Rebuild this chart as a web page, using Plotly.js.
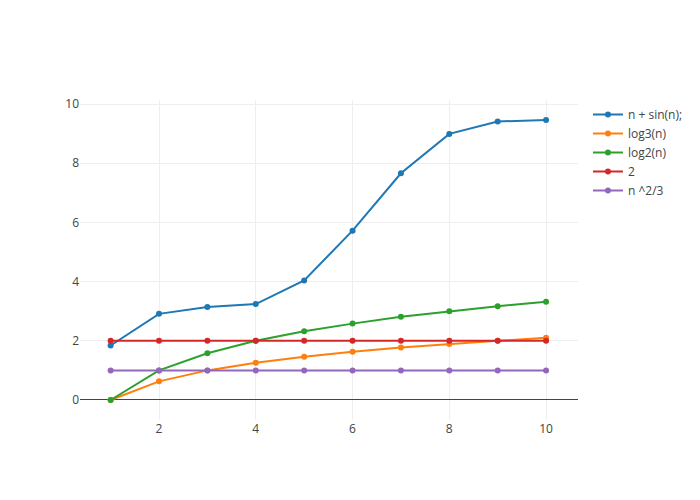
<!DOCTYPE html>
<html><head><meta charset="utf-8">
<script src="https://cdn.plot.ly/plotly-3.0.1.min.js"></script>
<style>body{margin:0}</style></head>
<body><div id="chart" style="width:700px;height:500px"></div>
<script>
const xs = [1, 2, 3, 4, 5, 6, 7, 8, 9, 10];
const nSin = [1.84, 2.91, 3.14, 3.24, 4.04, 5.72, 7.66, 8.99, 9.41, 9.46];
const log3 = [0, 0.63, 1, 1.26, 1.46, 1.63, 1.77, 1.89, 2, 2.10];
const log2 = [0, 1, 1.58, 2, 2.32, 2.58, 2.81, 3, 3.17, 3.32];
const two = [2, 2, 2, 2, 2, 2, 2, 2, 2, 2];
const nPow = [1, 1, 1, 1, 1, 1, 1, 1, 1, 1];
const names = ["n + sin(n);", "log3(n)", "log2(n)", "2", "n ^2/3"];
const series = [nSin, log3, log2, two, nPow];
const traces = series.map((ys, i) => ({
  x: xs, y: ys, name: names[i], type: 'scatter', mode: 'lines+markers'
}));
Plotly.newPlot('chart', traces, {
  width: 700, height: 500,
  font: {family: '"Open Sans", verdana, arial, sans-serif', color: '#444'},
  xaxis: {gridcolor: '#eee', zeroline: false, range: [0.367, 10.66]},
  yaxis: {gridcolor: '#eee', zeroline: true, zerolinecolor: '#444', range: [-0.676, 10.135]},
  paper_bgcolor: '#fff', plot_bgcolor: '#fff'
}, {displayModeBar: false});
</script></body></html>
